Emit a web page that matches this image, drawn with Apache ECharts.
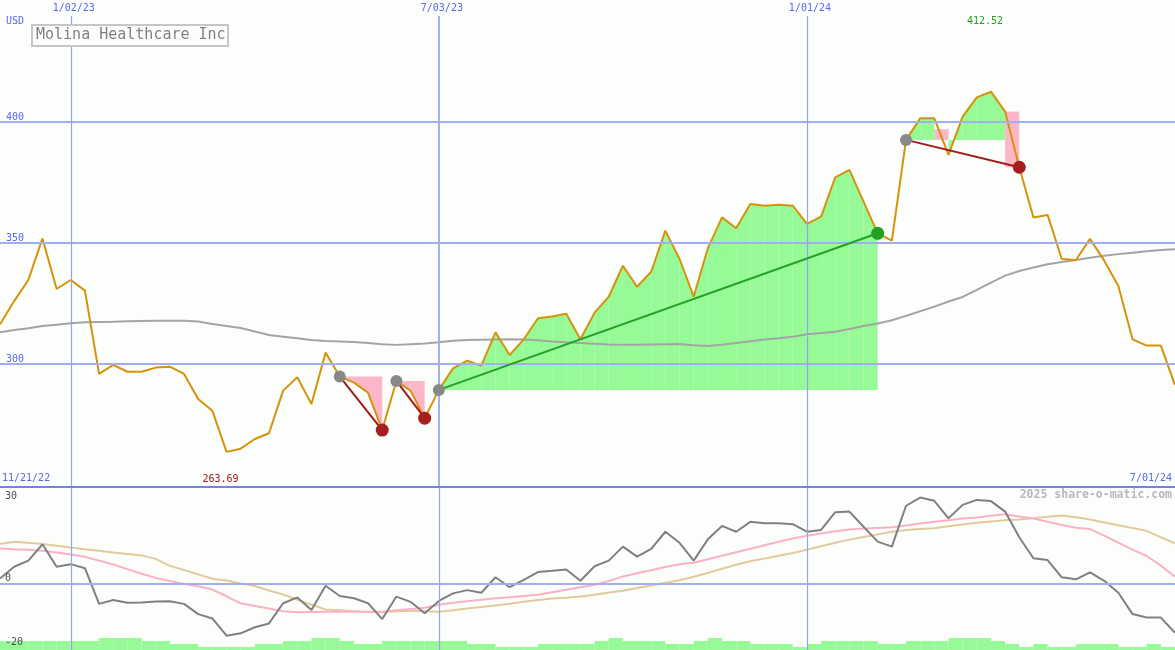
<!DOCTYPE html>
<html><head><meta charset="utf-8">
<script src="https://cdn.jsdelivr.net/npm/echarts@6/dist/echarts.min.js"></script>
<style>html,body{margin:0;padding:0;background:#fcfefc}#c{width:1175px;height:650px}</style>
</head><body><div id="c"></div>
<script>
const chartTitle = 'Molina Healthcare Inc';
const currency = 'USD';
// weekly closes, 11/28/22 .. 7/01/24
const price = [316.4,326.0,334.7,351.9,331.0,334.7,330.3,295.9,299.6,296.8,
  296.8,298.5,298.9,295.9,285.5,280.7,263.69,265.0,269.0,271.4,
  289.0,294.5,283.5,304.7,294.8,292.3,288.1,272.7,293.0,289.0,
  277.6,289.3,298.2,301.4,299.3,313.1,303.7,310.2,318.9,319.6,
  320.8,310.2,321.2,327.8,340.6,331.9,338.1,355.1,343.4,327.8,
  347.8,360.6,356.1,366.1,365.4,365.8,365.4,357.9,360.9,377.1,
  380.2,367.1,354.0,351.0,392.6,401.5,401.5,386.4,402.2,410.2,
  412.52,404.3,381.3,360.5,361.6,343.4,343.0,351.7,342.7,332.2,
  310.2,307.6,307.6,291.3];
const movingAvg = [313.1,314.0,314.8,315.7,316.2,316.8,317.2,317.4,317.5,317.7,
  317.8,317.9,317.9,317.9,317.6,316.5,315.7,314.9,313.4,312.0,
  311.3,310.6,309.9,309.5,309.3,309.1,308.7,308.2,307.9,308.2,
  308.5,309.0,309.6,309.9,310.0,310.1,310.2,310.1,309.8,309.3,
  309.0,308.7,308.4,308.1,307.9,308.0,308.1,308.2,308.3,307.7,
  307.4,308.0,308.7,309.4,310.1,310.6,311.3,312.3,312.8,313.3,
  314.5,315.7,316.7,318.1,319.9,321.8,323.7,325.8,327.7,330.6,
  333.6,336.5,338.4,339.9,341.2,342.1,343.0,343.9,344.7,345.4,
  346.0,346.6,347.1,347.4];
const oscillator = [1.9,5.9,8.0,13.6,5.9,6.8,5.4,-6.8,-5.5,-6.4,
  -6.3,-6.0,-5.9,-6.8,-10.3,-11.8,-17.7,-16.9,-14.8,-13.5,
  -6.6,-4.6,-8.9,-0.6,-4.1,-4.9,-6.6,-12.0,-4.3,-6.1,
  -10.0,-5.8,-3.2,-2.1,-3.0,2.3,-1.1,1.4,4.1,4.5,
  5.0,1.1,6.1,8.0,12.8,9.4,12.0,17.9,14.1,8.0,
  15.3,19.9,17.9,21.3,20.8,20.8,20.5,17.9,18.5,24.6,
  24.8,19.6,14.5,12.8,26.8,29.6,28.5,22.5,27.1,28.8,
  28.4,24.8,16.0,8.8,8.2,2.3,1.6,4.0,1.1,-3.0,
  -10.3,-11.5,-11.5,-16.7];
const oscFast = [12.2,11.9,11.7,11.4,10.8,10.1,9.3,8.0,6.7,5.1,
  3.5,2.1,1.0,0.0,-0.8,-1.9,-4.2,-6.6,-7.5,-8.4,
  -9.3,-9.7,-9.6,-9.5,-9.5,-9.5,-9.5,-9.5,-9.0,-8.6,
  -8.1,-7.1,-6.4,-5.9,-5.4,-4.9,-4.5,-4.1,-3.7,-2.8,
  -2.0,-1.1,-0.3,1.0,2.6,3.7,4.7,5.8,6.8,7.3,
  8.5,9.7,10.9,12.1,13.3,14.5,15.6,16.5,17.3,18.1,
  18.7,19.0,19.2,19.4,20.0,20.7,21.3,21.8,22.4,22.8,
  23.4,23.9,23.1,22.4,21.3,20.2,19.3,18.8,16.6,14.2,
  11.8,9.6,6.3,2.5];
const oscSlow = [13.7,14.5,14.1,13.7,13.1,12.5,11.9,11.4,10.8,10.3,
  9.8,8.6,6.2,4.8,3.3,1.8,1.2,0.2,-0.7,-2.2,
  -3.6,-5.4,-7.1,-8.7,-9.0,-9.3,-9.6,-9.6,-9.3,-9.2,
  -9.3,-9.5,-9.0,-8.4,-7.9,-7.4,-6.8,-6.1,-5.5,-5.0,
  -4.7,-4.3,-3.7,-2.9,-2.3,-1.4,-0.5,0.4,1.3,2.5,
  3.8,5.2,6.6,7.8,8.7,9.7,10.6,11.7,12.9,14.1,
  15.2,16.1,17.0,17.9,18.5,18.8,19.1,19.8,20.4,21.0,
  21.4,21.8,22.1,22.5,23.0,23.5,22.9,22.1,21.1,20.1,
  19.2,18.2,16.0,13.9];
// weekly strength level (1..4) for each week interval
const strength = [3,3,3,3,3,3,3,4,4,4,3,3,2,2,1,1,1,1,2,2,
  3,3,4,4,3,2,2,3,3,3,3,3,3,2,2,1,1,1,2,2,
  2,2,3,4,3,3,3,2,2,3,4,3,3,2,2,2,1,2,3,3,
  3,3,2,2,3,3,3,4,4,4,3,2,1,2,1,1,2,2,2,1,
  1,2,1];
const tickIndex = [5, 31, 57];
const tickLabels = ['1/02/23', '7/03/23', '1/01/24'];
const rangeLabels = ['11/21/22', '7/01/24'];
const priceLevels = [300, 350, 400];
const oscLevels = [30, 0, -20];
const patStart = [24, 28, 31, 64];
const patEnd = [27, 30, 62, 72];
const patUp = [false, false, true, false];
const watermark = '2025 share-o-matic.com';

const MONO = 'DejaVu Sans Mono';
const BLUE = '#5668ee';
const GRID = '#a2aef0';
const GRID_THIN = '#94a2f2';
const GREEN_FILL = '#96fa96';
const PINK_FILL = '#fcb6c8';
const N = price.length - 1;

const iMax = price.indexOf(Math.max(...price));
const iMin = price.indexOf(Math.min(...price));

function fillRender(params, api) {
  const p = params.dataIndex;
  const s = patStart[p], e = patEnd[p], B = price[s];
  const P = (x, y) => api.coord([x, y]);
  const pink = [], green = [];
  for (let k = s; k < e; k++) {
    const y0 = price[k], y1 = price[k + 1];
    if (y0 >= B && y1 >= B) green.push([P(k, B), P(k, y0), P(k + 1, y1), P(k + 1, B)]);
    else if (y0 <= B && y1 <= B) pink.push([P(k, B), P(k, y0), P(k + 1, y1), P(k + 1, B)]);
    else if (y1 > y0) green.push([P(k, B), P(k, y0), P(k + 1, y1), P(k + 1, B)]);
    else {
      const top = (k + 1 === e) ? y0 : (B + y0) / 2;
      const bot = (k + 1 === e) ? y1 : B;
      pink.push([P(k, bot), P(k, top), P(k + 1, top), P(k + 1, bot)]);
    }
  }
  const mk = (pts, c) => ({ type: 'polygon', shape: { points: pts }, style: { fill: c } });
  return { type: 'group', children: pink.map(q => mk(q, PINK_FILL)).concat(green.map(q => mk(q, GREEN_FILL))) };
}

function blockRender(params, api) {
  const k = api.value(0), lv = api.value(1);
  const a = api.coord([k, 0]), b = api.coord([k + 1, lv]);
  return { type: 'rect', shape: { x: a[0], y: b[1], width: b[0] - a[0], height: a[1] - b[1] }, style: { fill: GREEN_FILL } };
}

const vLines = tickIndex.map((v, j) => ({ xAxis: v, lineStyle: { color: j === 1 ? GRID : GRID_THIN, width: j === 1 ? 2 : 1.2, type: 'solid' } }));

const trendSeries = patStart.map((s, p) => ({
  type: 'line', xAxisIndex: 0, yAxisIndex: 0, z: 5, silent: true, showSymbol: false,
  data: [[s, price[s]], [patEnd[p], price[patEnd[p]]]],
  lineStyle: { color: patUp[p] ? '#26a026' : '#a01c1c', width: 2 }
}));

const option = {
  animation: false,
  backgroundColor: '#fcfefc',
  title: {
    text: chartTitle, left: 32, top: 25, padding: [2, 3, 2, 4],
    borderColor: '#c6c6c6', borderWidth: 2, backgroundColor: '#fcfefc',
    textStyle: { fontFamily: MONO, fontSize: 15, fontWeight: 'normal', color: '#808080', lineHeight: 17 }
  },
  grid: [
    { left: 0, right: 0, top: 16, height: 471 },
    { left: 0, right: 0, top: 488, height: 162 }
  ],
  xAxis: [
    { type: 'value', gridIndex: 0, position: 'bottom', min: 0, max: N, z: 8,
      axisLine: { show: true, lineStyle: { color: '#7282e6', width: 2 } },
      axisTick: { show: false }, axisLabel: { show: false }, splitLine: { show: false } },
    { type: 'value', gridIndex: 0, position: 'top', min: 0, max: N,
      axisLine: { show: false }, axisTick: { show: false }, splitLine: { show: false },
      axisLabel: { show: true, customValues: tickIndex, margin: 3, padding: [0, 0, 0, 6],
        formatter: v => tickLabels[tickIndex.indexOf(v)] || '',
        color: BLUE, fontFamily: MONO, fontSize: 10 } },
    { type: 'value', gridIndex: 1, min: 0, max: N, show: false }
  ],
  yAxis: [
    { type: 'value', gridIndex: 0, min: 249.17, max: 443.8, z: 8,
      axisLine: { show: false }, axisTick: { show: false }, splitLine: { show: false },
      axisLabel: { show: true, inside: true, customValues: priceLevels, margin: 6,
        verticalAlign: 'bottom', color: BLUE, fontFamily: MONO, fontSize: 10 } },
    { type: 'value', gridIndex: 1, min: -22.6, max: 32.88, z: 8,
      axisLine: { show: false }, axisTick: { show: false }, splitLine: { show: false },
      axisLabel: { show: true, inside: true, customValues: oscLevels, margin: 5,
        formatter: v => v === 0 ? '{b|0}' : '{m|' + v + '}',
        rich: { b: { padding: [0, 0, 11, 0], color: '#505050', fontFamily: MONO, fontSize: 10 },
                m: { color: '#505050', fontFamily: MONO, fontSize: 10 } },
        color: '#505050', fontFamily: MONO, fontSize: 10 } },
    { type: 'value', gridIndex: 1, min: 0, max: 54, show: false }
  ],
  graphic: [
    { type: 'text', left: 6, top: 16, z: 10, style: { text: currency, fill: BLUE, font: '10px "DejaVu Sans Mono"' } },
    { type: 'text', left: 2, top: 473, z: 10, style: { text: rangeLabels[0], fill: BLUE, font: '10px "DejaVu Sans Mono"' } },
    { type: 'text', right: 3, top: 473, z: 10, style: { text: rangeLabels[1], fill: BLUE, font: '10px "DejaVu Sans Mono"' } },
    { type: 'text', right: 3, top: 489, z: 10, style: { text: watermark, fill: '#b8b8b8', font: 'bold 11.5px "DejaVu Sans Mono"' } }
  ],
  series: [
    { type: 'line', xAxisIndex: 0, yAxisIndex: 0, z: 0, data: [], silent: true,
      markLine: { silent: true, symbol: 'none', label: { show: false }, animation: false,
        data: priceLevels.map(v => ({ yAxis: v, lineStyle: { color: GRID, width: 2, type: 'solid' } })).concat(vLines) } },
    { type: 'custom', xAxisIndex: 0, yAxisIndex: 0, z: 1, silent: true, clip: false,
      renderItem: fillRender, encode: { x: 0, y: 1 },
      data: patStart.map((s, p) => [s, price[s], p]) },
    { type: 'line', xAxisIndex: 0, yAxisIndex: 0, z: 3, silent: true, showSymbol: false,
      data: movingAvg.map((v, i) => [i, v]), lineStyle: { color: '#a4a4a4', width: 2 } },
    { type: 'line', xAxisIndex: 0, yAxisIndex: 0, z: 4, silent: true, showSymbol: false,
      data: price.map((v, i) => [i, v]), lineStyle: { color: '#d6920c', width: 2 },
      markPoint: { silent: true, symbol: 'circle', symbolSize: 0,
        data: [
          { coord: [iMax, 441.74], value: price[iMax], label: { color: '#22a022' } },
          { coord: [iMin, 252.48], value: price[iMin], label: { color: '#a01818' } }
        ],
        label: { show: true, position: 'inside', offset: [-6, 0], fontFamily: MONO, fontSize: 10,
          formatter: p => Number(p.value).toFixed(2) } } },
    ...trendSeries,
    { type: 'scatter', xAxisIndex: 0, yAxisIndex: 0, z: 6, silent: true, symbolSize: 12,
      data: patStart.map(s => [s, price[s]]), itemStyle: { color: '#888888', opacity: 1 } },
    { type: 'scatter', xAxisIndex: 0, yAxisIndex: 0, z: 6, silent: true, symbolSize: 13,
      data: patEnd.map((e, p) => ({ value: [e, price[e]], itemStyle: { color: patUp[p] ? '#22a022' : '#a51f1f' } })),
      itemStyle: { opacity: 1 } },
    // lower panel
    { type: 'line', xAxisIndex: 2, yAxisIndex: 1, z: 0, data: [], silent: true,
      markLine: { silent: true, symbol: 'none', label: { show: false }, animation: false,
        data: [{ yAxis: 0, lineStyle: { color: GRID, width: 2, type: 'solid' } }]
          .concat(tickIndex.map(v => ({ xAxis: v, lineStyle: { color: GRID_THIN, width: 1.2, type: 'solid' } }))) } },
    { type: 'custom', xAxisIndex: 2, yAxisIndex: 2, z: 1, silent: true,
      renderItem: blockRender, encode: { x: 0, y: 1 },
      data: strength.map((v, k) => [k, v]) },
    { type: 'line', xAxisIndex: 2, yAxisIndex: 1, z: 2, silent: true, showSymbol: false,
      data: oscSlow.map((v, i) => [i, v]), lineStyle: { color: '#e2ca9c', width: 2 } },
    { type: 'line', xAxisIndex: 2, yAxisIndex: 1, z: 3, silent: true, showSymbol: false,
      data: oscFast.map((v, i) => [i, v]), lineStyle: { color: '#fcb0c6', width: 2 } },
    { type: 'line', xAxisIndex: 2, yAxisIndex: 1, z: 4, silent: true, showSymbol: false,
      data: oscillator.map((v, i) => [i, v]), lineStyle: { color: '#808080', width: 2 } }
  ]
};
const chart = echarts.init(document.getElementById('c'), null, { renderer: 'canvas' });
chart.setOption(option);
</script>
</body></html>
